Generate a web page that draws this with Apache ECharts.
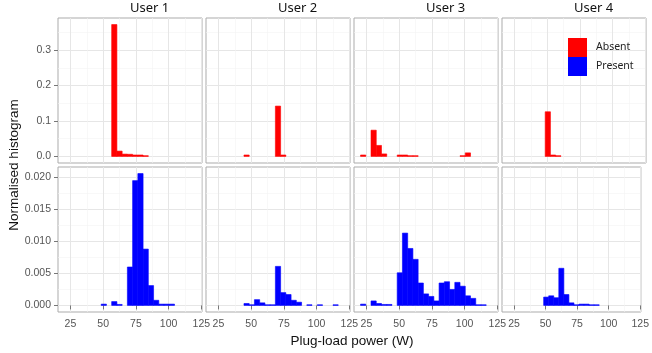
<!DOCTYPE html>
<html>
<head>
<meta charset="utf-8">
<script src="https://cdn.jsdelivr.net/npm/echarts@6/dist/echarts.min.js"></script>
<style>
html, body { margin: 0; padding: 0; background: #fff; }
#chart { width: 652px; height: 353px; }
</style>
</head>
<body>
<div id="chart"></div>
<script>
// histogram bins: 25 bins of 4 W starting at 20.5 W
var users = ['User 1', 'User 2', 'User 3', 'User 4'];
var binStart = 20.5;
var binWidth = 4;

var absent1 = [0,0,0,0,0,0,0,0,0,0.372,0.015,0.0065,0.006,0.004,0.004,0.002,0,0,0,0,0,0,0,0,0];
var absent2 = [0,0,0,0,0,0,0.004,0,0,0,0,0,0.142,0.004,0,0,0,0,0,0,0,0,0,0,0];
var absent3 = [0.004,0,0.074,0.031,0.007,0,0,0.004,0.004,0.002,0.002,0,0,0,0,0,0,0,0,0.002,0.010,0,0,0,0];
var absent4 = [0,0,0,0,0,0,0,0.126,0.004,0.002,0,0,0,0,0,0,0,0,0,0,0,0,0,0,0];

var present1 = [0,0,0,0,0,0,0,0.0002,0,0.0006,0.00015,0,0.0060,0.0195,0.0206,0.0088,0.0031,0.0008,0.0002,0.0002,0.0002,0,0,0,0];
var present2 = [0,0,0,0,0,0,0.0003,0.0001,0.0009,0.0004,0.0001,0.0001,0.0061,0.0020,0.0017,0.0008,0.0005,0,0.0001,0,0.0001,0,0,0.0001,0];
var present3 = [0.0002,0,0.0007,0.0003,0.00015,0.00015,0,0.0051,0.0113,0.0089,0.0072,0.0035,0.0018,0.0014,0.0007,0.0035,0.0037,0.0025,0.0036,0.0030,0.0015,0.0011,0.0001,0.0001,0];
var present4 = [0,0,0,0,0,0,0,0.0013,0.0015,0.0012,0.0058,0.0017,0.0004,0.0001,0.0002,0.0002,0.0001,0.0001,0,0,0,0,0,0,0];

var absent = [absent1, absent2, absent3, absent4];
var present = [present1, present2, present3, present4];

var xTicks = [25, 50, 75, 100, 125];
var xMinor = [37.5, 62.5, 87.5, 112.5];
var topTicks = [0, 0.1, 0.2, 0.3];
var topMinor = [0.05, 0.15, 0.25, 0.35];
var bottomTicks = [0, 0.005, 0.01, 0.015, 0.02];
var bottomMinor = [0.0025, 0.0075, 0.0125, 0.0175];

var panelLeft = [58, 206, 354, 502];
var panelW = 144;
var rowTop = [18, 167];
var rowH = 145;

var labelFont = 'Liberation Sans, Arial, sans-serif';
var stripFont = 'Noto Sans, Open Sans, sans-serif';

function toBins(arr) {
    var out = [];
    arr.forEach(function (v, i) {
        if (v > 0) out.push([binStart + i * binWidth, binStart + (i + 1) * binWidth, v]);
    });
    return out;
}

function rowMax(rows) {
    var m = 0;
    rows.forEach(function (r) { r.forEach(function (v) { if (v > m) m = v; }); });
    return m;
}

// ggplot style 5% expansion
var xEnd = binStart + binWidth * absent1.length;
var xPad = (xEnd - binStart) * 0.05;
var xMin = binStart - xPad, xMax = xEnd + xPad;
var topMax = rowMax(absent), botMax = rowMax(present);
var yRange = [[-0.05 * topMax, 1.05 * topMax], [-0.05 * botMax, 1.05 * botMax]];
var yTicks = [[topTicks, topMinor], [bottomTicks, bottomMinor]];
var yDecimals = [1, 3];
var colors = ['#ff0000', '#0000ff'];
var names = ['Absent', 'Present'];

function renderBin(params, api) {
    var p0 = api.coord([api.value(0), api.value(2)]);
    var p1 = api.coord([api.value(1), 0]);
    var c = api.visual('color');
    return {
        type: 'rect',
        shape: { x: p0[0], y: p0[1], width: p1[0] - p0[0], height: p1[1] - p0[1] },
        style: { fill: c, stroke: c, lineWidth: 0.6 }
    };
}

var grids = [], xAxes = [], yAxes = [], series = [], graphics = [];

for (var r = 0; r < 2; r++) {
    for (var c = 0; c < 4; c++) {
        var g = grids.length;
        grids.push({
            left: panelLeft[c], top: rowTop[r], width: panelW, height: rowH,
            show: true, borderColor: '#ababab', borderWidth: 1, backgroundColor: '#fff'
        });
        // major x
        xAxes.push({
            gridIndex: g, type: 'value', min: xMin, max: xMax, position: 'bottom',
            axisLine: { show: false },
            axisTick: { show: r === 1, length: 4, customValues: xTicks, lineStyle: { color: '#777' } },
            axisLabel: { show: r === 1, customValues: xTicks, margin: 7, color: '#555', fontSize: 10.5, fontFamily: labelFont },
            splitLine: { show: true, lineStyle: { color: '#e6e6e6', width: 1 } }
        });
        // minor x
        xAxes.push({
            gridIndex: g, type: 'value', min: xMin, max: xMax, position: 'top',
            axisLine: { show: false },
            axisTick: { show: false, customValues: xMinor },
            axisLabel: { show: false },
            splitLine: { show: true, lineStyle: { color: '#f3f3f3', width: 0.6 } }
        });
        var dec = yDecimals[r];
        yAxes.push({
            gridIndex: g, type: 'value', min: yRange[r][0], max: yRange[r][1], position: 'left',
            axisLine: { show: false },
            axisTick: { show: c === 0, length: 4, customValues: yTicks[r][0], lineStyle: { color: '#777' } },
            axisLabel: {
                show: c === 0, customValues: yTicks[r][0], margin: 7, color: '#555', fontSize: 10.5, fontFamily: labelFont,
                formatter: (function (d) { return function (v) { return Math.abs(v) < 1e-9 ? (0).toFixed(d) : v.toFixed(d); }; })(dec)
            },
            splitLine: { show: true, lineStyle: { color: '#e6e6e6', width: 1 } }
        });
        yAxes.push({
            gridIndex: g, type: 'value', min: yRange[r][0], max: yRange[r][1], position: 'right',
            axisLine: { show: false },
            axisTick: { show: false, customValues: yTicks[r][1] },
            axisLabel: { show: false },
            splitLine: { show: true, lineStyle: { color: '#f3f3f3', width: 0.6 } }
        });
        series.push({
            type: 'custom',
            name: names[r],
            xAxisIndex: 2 * g,
            yAxisIndex: 2 * g,
            itemStyle: { color: colors[r] },
            renderItem: renderBin,
            encode: { x: [0, 1], y: 2 },
            data: toBins(r === 0 ? absent[c] : present[c]),
            silent: true,
            z: 3
        });
    }
}

users.forEach(function (u, c) {
    graphics.push({
        type: 'text', left: panelLeft[c] + panelW / 2, top: 2,
        style: { text: u, fontSize: 13, fontFamily: stripFont, fill: '#111', textAlign: 'center' }
    });
});

graphics.push({
    type: 'text', x: 14, y: 165, rotation: Math.PI / 2,
    style: { text: 'Normalised histogram', fontSize: 13.5, fontFamily: labelFont, fill: '#111', textAlign: 'center', textVerticalAlign: 'middle' }
});
graphics.push({
    type: 'text', x: panelLeft[0] + (panelLeft[3] + panelW - panelLeft[0]) / 2, y: 341,
    style: { text: 'Plug-load power (W)', fontSize: 13.5, fontFamily: labelFont, fill: '#111', textAlign: 'center', textVerticalAlign: 'middle' }
});

var myChart = echarts.init(document.getElementById('chart'), null, { renderer: 'canvas' });
var option = {
    animation: false,
    backgroundColor: '#fff',
    grid: grids,
    xAxis: xAxes,
    yAxis: yAxes,
    legend: {
        orient: 'vertical',
        left: 563, top: 33,
        itemWidth: 19, itemHeight: 19, itemGap: 0,
        icon: 'rect',
        selectedMode: false,
        data: ['Absent', 'Present'],
        textStyle: { fontSize: 10.5, fontFamily: stripFont, color: '#222', padding: [0, 0, 0, 4] }
    },
    graphic: graphics,
    series: series
};
myChart.setOption(option);
</script>
</body>
</html>
